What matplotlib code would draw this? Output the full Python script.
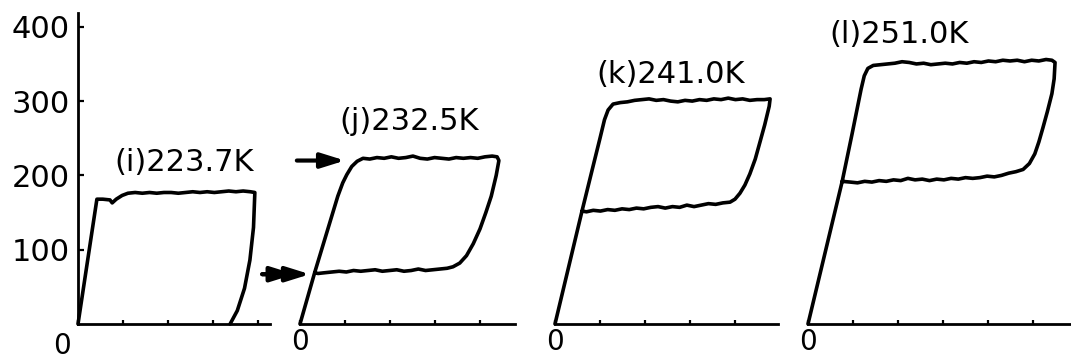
import matplotlib
matplotlib.use("Agg")
import matplotlib.pyplot as plt

plt.rcParams["font.family"] = "DejaVu Sans"

# ---- data -------------------------------------------------------------
# stress scale on the first panel
STRESS_TICKS = [100, 200, 300, 400]
STRESS_LABELS = ["100", "200", "300", "400"]

TEMP_LABELS = ["(i)223.7K", "(j)232.5K", "(k)241.0K", "(l)251.0K"]

# (i) 223.7 K : loading, upper plateau, unloading back to zero
I_STRAIN = [0, 0.42, 0.55, 0.71, 0.76, 0.85, 0.98, 1.11, 1.27, 1.43, 1.59,
            1.75, 1.91, 2.07, 2.23, 2.39, 2.55, 2.71, 2.87, 3.03, 3.19, 3.35,
            3.51, 3.67, 3.83, 3.93, 3.90, 3.82, 3.70, 3.54, 3.38]
I_STRESS = [0, 168, 168, 167, 163, 168, 173, 176, 177, 176, 177,
            176, 177, 177, 176, 177, 178, 177, 178, 177, 178, 179,
            178, 179, 178, 177, 130, 86, 48, 18, 0]

# (j) 232.5 K
J_STRAIN = [0, 0.33, 0.84, 0.95, 1.04, 1.15, 1.27, 1.40,
            1.55, 1.71, 1.87, 2.03, 2.19, 2.35, 2.51, 2.67, 2.83, 2.99, 3.15,
            3.31, 3.47, 3.63, 3.79, 3.95, 4.11, 4.27, 4.38, 4.42,
            4.36, 4.25, 4.13, 4.00, 3.85, 3.70, 3.55, 3.40, 3.27,
            3.11, 2.95, 2.79, 2.63, 2.47, 2.31, 2.15, 1.99, 1.83, 1.67, 1.51,
            1.35, 1.19, 1.03, 0.87, 0.71, 0.55, 0.40, 0.33]
J_STRESS = [0, 70, 172, 190, 201, 212, 219, 223,
            222, 224, 223, 225, 223, 224, 226, 223, 222, 224, 223,
            222, 224, 223, 224, 223, 225, 226, 225, 220,
            200, 172, 150, 128, 108, 92, 82, 77, 75,
            74, 73, 72, 74, 72, 71, 73, 72, 71, 73, 72,
            71, 72, 70, 71, 70, 69, 68, 69]

# (k) 241.0 K
K_STRAIN = [0, 0.60, 0.82, 1.00, 1.10, 1.18, 1.29,
            1.45, 1.61, 1.77, 1.93, 2.09, 2.25, 2.41, 2.57, 2.73, 2.89, 3.05,
            3.21, 3.37, 3.53, 3.69, 3.85, 4.01, 4.17, 4.33, 4.49, 4.65, 4.78,
            4.76, 4.66, 4.56, 4.45, 4.33, 4.22, 4.11, 4.00, 3.89,
            3.73, 3.57, 3.41, 3.25, 3.09, 2.93, 2.77, 2.61, 2.45, 2.29, 2.13,
            1.97, 1.81, 1.65, 1.49, 1.33, 1.17, 1.01, 0.85, 0.70, 0.60]
K_STRESS = [0, 152, 206, 250, 275, 288, 296,
            298, 299, 301, 302, 303, 301, 302, 300, 299, 301, 300,
            302, 301, 303, 302, 304, 302, 303, 301, 302, 302, 303,
            293, 268, 246, 222, 202, 187, 176, 168, 164,
            163, 161, 162, 160, 158, 160, 157, 158, 156, 158, 157,
            155, 156, 154, 155, 153, 154, 152, 153, 151, 152]

# (l) 251.0 K
L_STRAIN = [0, 0.76, 0.98, 1.18, 1.25, 1.33, 1.45,
            1.61, 1.77, 1.93, 2.09, 2.25, 2.41, 2.57, 2.73, 2.89, 3.05, 3.21,
            3.37, 3.53, 3.69, 3.85, 4.01, 4.17, 4.33, 4.49, 4.65, 4.81, 4.97,
            5.13, 5.29, 5.42, 5.49,
            5.47, 5.42, 5.32, 5.22, 5.13, 5.04, 4.92, 4.78,
            4.62, 4.46, 4.30, 4.14, 3.98, 3.82, 3.66, 3.50, 3.34, 3.18, 3.02,
            2.86, 2.70, 2.54, 2.38, 2.22, 2.06, 1.90, 1.74, 1.58, 1.42, 1.26,
            1.10, 0.94, 0.76]
L_STRESS = [0, 192, 256, 316, 334, 344, 348,
            349, 350, 351, 353, 352, 350, 351, 349, 350, 351, 350,
            352, 351, 353, 352, 354, 353, 355, 354, 355, 353, 355,
            354, 356, 355, 352,
            330, 310, 286, 264, 245, 229, 216, 208,
            205, 203, 200, 198, 199, 197, 196, 197, 195, 196, 194,
            195, 193, 195, 194, 196, 193, 194, 192, 193, 191, 192,
            190, 191, 192]

LOOPS = [(I_STRAIN, I_STRESS), (J_STRAIN, J_STRESS),
         (K_STRAIN, K_STRESS), (L_STRAIN, L_STRESS)]

# plateau levels marked by arrows on panel (j)
J_UPPER_LEVEL = 220
J_LOWER_LEVEL = 67

# ---- layout -----------------------------------------------------------
W, H = 1071, 358
ORIGIN_Y = 324          # pixel row of zero stress
PX_PER_STRAIN = 45.0
YMAX = 432
PANEL_PX = [(78, 192), (300, 215), (555, 223), (808, 263)]   # left, width
LABEL_POS = [(2.36, 217), (2.42, 272), (2.56, 336), (2.02, 390)]

FS = 22
LW = 2.6

fig = plt.figure(figsize=(W / 100, H / 100), dpi=100)
axes = []
for (left, width), (strain, stress), label, (lx, ly) in zip(
        PANEL_PX, LOOPS, TEMP_LABELS, LABEL_POS):
    ax = fig.add_axes([left / W, (H - ORIGIN_Y) / H, width / W,
                       YMAX * 0.743 / H])
    ax.set_xlim(0, width / PX_PER_STRAIN)
    ax.set_ylim(0, YMAX)
    ax.plot(strain, stress, color="black", lw=LW,
            solid_joinstyle="round", solid_capstyle="round", clip_on=False)

    for side in ("top", "right", "left"):
        ax.spines[side].set_visible(False)
    ax.spines["bottom"].set_linewidth(2.0)

    n = int(width / PX_PER_STRAIN)
    ax.set_xticks(range(0, n + 1))
    ax.set_xticklabels(["0"] + [""] * n, fontsize=20)
    ax.tick_params(axis="x", direction="in", length=3, width=1.6, pad=3)
    ax.set_yticks([])
    ax.text(lx, ly, label, fontsize=FS, ha="center", va="center")
    ax.patch.set_visible(False)
    axes.append(ax)

# stress axis on the first panel only
ax0 = axes[0]
ax0.spines["left"].set_visible(True)
ax0.spines["left"].set_linewidth(2.0)
ax0.spines["left"].set_bounds(0, 419)
ax0.set_yticks(STRESS_TICKS)
ax0.set_yticklabels(STRESS_LABELS, fontsize=FS)
ax0.tick_params(axis="y", direction="in", length=4, width=1.6, pad=6)
ax0.set_xticklabels([""] * len(ax0.get_xticks()))
ax0.text(-0.35, -29, "0", fontsize=20, ha="center", va="center")

# arrows marking the two plateaus of panel (j)
axj = axes[1]
arrow = dict(arrowstyle="-|>,head_length=0.8,head_width=0.25",
             color="black", lw=3, mutation_scale=18, shrinkA=0, shrinkB=0)
axj.annotate("", xy=(1.0, J_UPPER_LEVEL), xytext=(-0.07, J_UPPER_LEVEL),
             arrowprops=arrow, annotation_clip=False)
axj.annotate("", xy=(0.22, J_LOWER_LEVEL), xytext=(-0.84, J_LOWER_LEVEL),
             arrowprops=arrow, annotation_clip=False)
axj.annotate("", xy=(-0.12, J_LOWER_LEVEL), xytext=(-0.84, J_LOWER_LEVEL),
             arrowprops=arrow, annotation_clip=False)

fig.savefig("out.png", dpi=100)
